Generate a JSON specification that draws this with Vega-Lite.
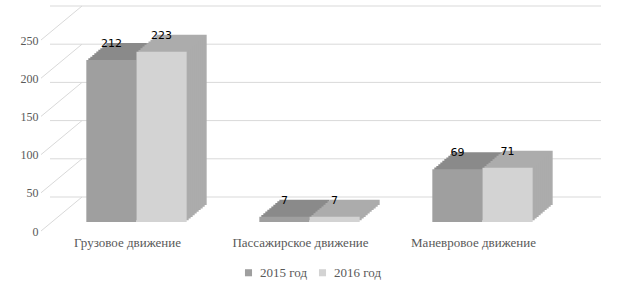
{
  "$schema": "https://vega.github.io/schema/vega-lite/v6.json",
  "autosize": "none",
  "width": 519,
  "height": 191,
  "padding": {"left": 50, "top": 31, "right": 54, "bottom": 64},
  "background": "white",
  "config": {
    "view": {"stroke": null},
    "axis": {"labelFont": "Liberation Serif", "labelColor": "#595959", "labelOverlap": false},
    "legend": {"labelFont": "Liberation Serif", "labelColor": "#595959"}
  },
  "resolve": {"scale": {"x": "independent"}},
  "datasets": {
    "bars": [
      {"category": "Грузовое движение", "year": "2015 год", "value": 212},
      {"category": "Грузовое движение", "year": "2016 год", "value": 223},
      {"category": "Пассажирское движение", "year": "2015 год", "value": 7},
      {"category": "Пассажирское движение", "year": "2016 год", "value": 7},
      {"category": "Маневровое движение", "year": "2015 год", "value": 69},
      {"category": "Маневровое движение", "year": "2016 год", "value": 71}
    ],
    "grid": [
      {"value": 0}, {"value": 50}, {"value": 100}, {"value": 150}, {"value": 200}, {"value": 250}
    ]
  },
  "encoding": {
    "y": {
      "field": "value", "type": "quantitative",
      "scale": {"domain": [0, 250], "nice": false},
      "title": null,
      "axis": {
        "values": [0, 50, 100, 150, 200, 250],
        "domain": false, "ticks": false, "grid": false,
        "labelPadding": 12, "labelOffset": 9, "labelOverlap": false,
        "labelFont": "Liberation Serif", "labelFontSize": 12, "labelColor": "#595959"
      }
    }
  },
  "layer": [
    {
      "data": {"name": "grid"},
      "mark": {"type": "rule", "color": "#d9d9d9", "strokeWidth": 1, "xOffset": 32, "x2Offset": 43, "yOffset": -25}
    },
    {
      "data": {"name": "grid"},
      "mark": {"type": "rule", "color": "#d9d9d9", "strokeWidth": 1, "xOffset": -9, "x2Offset": 32, "yOffset": 9, "y2Offset": -25},
      "encoding": {"y2": {"field": "value"}, "x": {"value": 0}, "x2": {"value": 0}}
    },
    {
      "data": {"name": "bars"},
      "mark": {"type": "bar", "yOffset": -17, "y2Offset": -17},
      "encoding": {
        "x": {"field": "category", "type": "nominal", "sort": ["Грузовое движение", "Пассажирское движение", "Маневровое движение"], "scale": {"paddingInner": 0.42, "paddingOuter": 0.21, "align": 0.77525}, "title": null, "axis": null},
        "xOffset": {"field": "year", "type": "nominal", "scale": {"paddingInner": 0, "paddingOuter": 0}},
        "fill": {"condition": {"test": "datum.year === '2015 год'", "value": "#8a8a8a"}, "value": "#acacac"}
      }
    },
    {
      "data": {"name": "bars"},
      "mark": {"type": "bar", "yOffset": -15.3, "y2Offset": -15.3},
      "encoding": {
        "x": {"field": "category", "type": "nominal", "sort": ["Грузовое движение", "Пассажирское движение", "Маневровое движение"], "scale": {"paddingInner": 0.42, "paddingOuter": 0.21, "align": 0.74773}, "title": null, "axis": null},
        "xOffset": {"field": "year", "type": "nominal", "scale": {"paddingInner": 0, "paddingOuter": 0}},
        "fill": {"condition": {"test": "datum.year === '2015 год'", "value": "#8a8a8a"}, "value": "#acacac"}
      }
    },
    {
      "data": {"name": "bars"},
      "mark": {"type": "bar", "yOffset": -13.6, "y2Offset": -13.6},
      "encoding": {
        "x": {"field": "category", "type": "nominal", "sort": ["Грузовое движение", "Пассажирское движение", "Маневровое движение"], "scale": {"paddingInner": 0.42, "paddingOuter": 0.21, "align": 0.7202}, "title": null, "axis": null},
        "xOffset": {"field": "year", "type": "nominal", "scale": {"paddingInner": 0, "paddingOuter": 0}},
        "fill": {"condition": {"test": "datum.year === '2015 год'", "value": "#8a8a8a"}, "value": "#acacac"}
      }
    },
    {
      "data": {"name": "bars"},
      "mark": {"type": "bar", "yOffset": -11.9, "y2Offset": -11.9},
      "encoding": {
        "x": {"field": "category", "type": "nominal", "sort": ["Грузовое движение", "Пассажирское движение", "Маневровое движение"], "scale": {"paddingInner": 0.42, "paddingOuter": 0.21, "align": 0.69268}, "title": null, "axis": null},
        "xOffset": {"field": "year", "type": "nominal", "scale": {"paddingInner": 0, "paddingOuter": 0}},
        "fill": {"condition": {"test": "datum.year === '2015 год'", "value": "#8a8a8a"}, "value": "#acacac"}
      }
    },
    {
      "data": {"name": "bars"},
      "mark": {"type": "bar", "yOffset": -10.2, "y2Offset": -10.2},
      "encoding": {
        "x": {"field": "category", "type": "nominal", "sort": ["Грузовое движение", "Пассажирское движение", "Маневровое движение"], "scale": {"paddingInner": 0.42, "paddingOuter": 0.21, "align": 0.66515}, "title": null, "axis": null},
        "xOffset": {"field": "year", "type": "nominal", "scale": {"paddingInner": 0, "paddingOuter": 0}},
        "fill": {"condition": {"test": "datum.year === '2015 год'", "value": "#8a8a8a"}, "value": "#acacac"}
      }
    },
    {
      "data": {"name": "bars"},
      "mark": {"type": "bar", "yOffset": -8.5, "y2Offset": -8.5},
      "encoding": {
        "x": {"field": "category", "type": "nominal", "sort": ["Грузовое движение", "Пассажирское движение", "Маневровое движение"], "scale": {"paddingInner": 0.42, "paddingOuter": 0.21, "align": 0.63763}, "title": null, "axis": null},
        "xOffset": {"field": "year", "type": "nominal", "scale": {"paddingInner": 0, "paddingOuter": 0}},
        "fill": {"condition": {"test": "datum.year === '2015 год'", "value": "#8a8a8a"}, "value": "#acacac"}
      }
    },
    {
      "data": {"name": "bars"},
      "mark": {"type": "bar", "yOffset": -6.8, "y2Offset": -6.8},
      "encoding": {
        "x": {"field": "category", "type": "nominal", "sort": ["Грузовое движение", "Пассажирское движение", "Маневровое движение"], "scale": {"paddingInner": 0.42, "paddingOuter": 0.21, "align": 0.6101}, "title": null, "axis": null},
        "xOffset": {"field": "year", "type": "nominal", "scale": {"paddingInner": 0, "paddingOuter": 0}},
        "fill": {"condition": {"test": "datum.year === '2015 год'", "value": "#8a8a8a"}, "value": "#acacac"}
      }
    },
    {
      "data": {"name": "bars"},
      "mark": {"type": "bar", "yOffset": -5.1, "y2Offset": -5.1},
      "encoding": {
        "x": {"field": "category", "type": "nominal", "sort": ["Грузовое движение", "Пассажирское движение", "Маневровое движение"], "scale": {"paddingInner": 0.42, "paddingOuter": 0.21, "align": 0.58258}, "title": null, "axis": null},
        "xOffset": {"field": "year", "type": "nominal", "scale": {"paddingInner": 0, "paddingOuter": 0}},
        "fill": {"condition": {"test": "datum.year === '2015 год'", "value": "#8a8a8a"}, "value": "#acacac"}
      }
    },
    {
      "data": {"name": "bars"},
      "mark": {"type": "bar", "yOffset": -3.4, "y2Offset": -3.4},
      "encoding": {
        "x": {"field": "category", "type": "nominal", "sort": ["Грузовое движение", "Пассажирское движение", "Маневровое движение"], "scale": {"paddingInner": 0.42, "paddingOuter": 0.21, "align": 0.55505}, "title": null, "axis": null},
        "xOffset": {"field": "year", "type": "nominal", "scale": {"paddingInner": 0, "paddingOuter": 0}},
        "fill": {"condition": {"test": "datum.year === '2015 год'", "value": "#8a8a8a"}, "value": "#acacac"}
      }
    },
    {
      "data": {"name": "bars"},
      "mark": {"type": "bar", "yOffset": -1.7, "y2Offset": -1.7},
      "encoding": {
        "x": {"field": "category", "type": "nominal", "sort": ["Грузовое движение", "Пассажирское движение", "Маневровое движение"], "scale": {"paddingInner": 0.42, "paddingOuter": 0.21, "align": 0.52753}, "title": null, "axis": null},
        "xOffset": {"field": "year", "type": "nominal", "scale": {"paddingInner": 0, "paddingOuter": 0}},
        "fill": {"condition": {"test": "datum.year === '2015 год'", "value": "#8a8a8a"}, "value": "#acacac"}
      }
    },
    {
      "data": {"name": "bars"},
      "mark": {"type": "bar"},
      "encoding": {
        "x": {
          "field": "category", "type": "nominal",
          "sort": ["Грузовое движение", "Пассажирское движение", "Маневровое движение"],
          "scale": {"paddingInner": 0.42, "paddingOuter": 0.21},
          "title": null,
          "axis": {
            "domain": false, "ticks": false, "labelAngle": 0, "labelPadding": 14, "labelOffset": -9,
            "labelFont": "Liberation Serif", "labelFontSize": 13, "labelColor": "#595959"
          }
        },
        "xOffset": {"field": "year", "type": "nominal", "scale": {"paddingInner": 0, "paddingOuter": 0}},
        "color": {
          "field": "year", "type": "nominal",
          "scale": {"domain": ["2015 год", "2016 год"], "range": ["#9f9f9f", "#d3d3d3"]},
          "legend": {
            "title": null, "orient": "none", "direction": "horizontal",
            "legendX": 192, "legendY": 235,
            "symbolType": "square", "symbolSize": 50, "symbolStrokeWidth": 0,
            "labelFont": "Liberation Serif", "labelFontSize": 13, "labelColor": "#595959",
            "labelOffset": 5, "columnPadding": 9
          }
        }
      }
    },
    {
      "data": {"name": "bars"},
      "mark": {"type": "text", "dy": -16, "baseline": "middle", "font": "DejaVu Sans", "fontSize": 11, "color": "#000000"},
      "encoding": {
        "x": {
          "field": "category", "type": "nominal",
          "sort": ["Грузовое движение", "Пассажирское движение", "Маневровое движение"],
          "scale": {"paddingInner": 0.42, "paddingOuter": 0.21},
          "title": null,
          "axis": null
        },
        "xOffset": {"field": "year", "type": "nominal", "scale": {"paddingInner": 0, "paddingOuter": 0}},
        "text": {"field": "value", "type": "quantitative"}
      }
    }
  ]
}
